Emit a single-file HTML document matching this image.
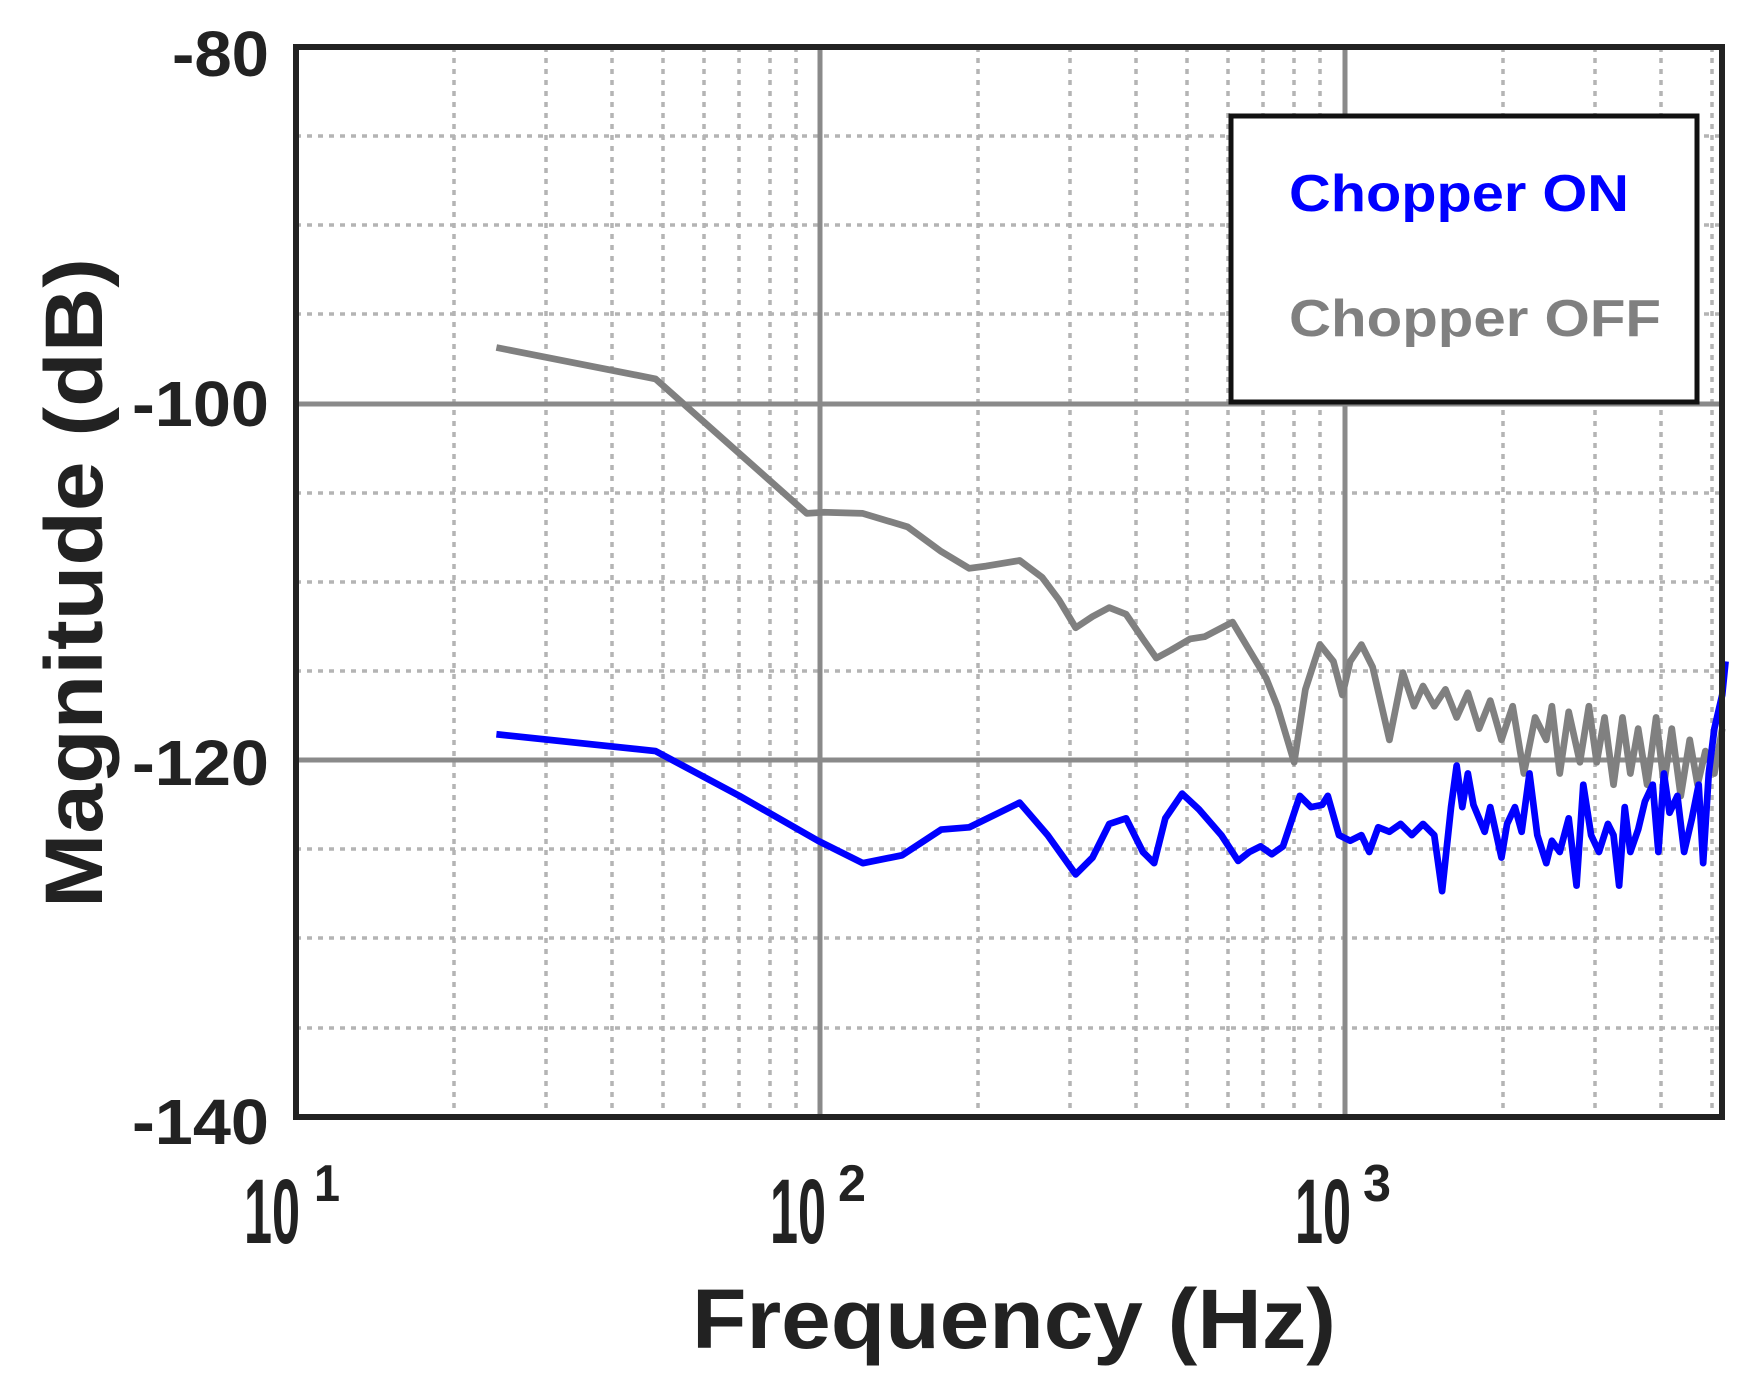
<!DOCTYPE html>
<html><head><meta charset="utf-8"><style>
html,body{margin:0;padding:0;background:#fff;}
svg{display:block;}
text{font-family:"Liberation Sans",Arial,sans-serif;font-weight:bold;}
</style></head><body>
<svg width="1748" height="1390" viewBox="0 0 1748 1390" xmlns="http://www.w3.org/2000/svg">
<rect width="1748" height="1390" fill="#fff"/>
<g stroke="#b4b4b4" stroke-width="3.5" stroke-dasharray="5 6">
<line x1="454" y1="47" x2="454" y2="1117"/><line x1="546" y1="47" x2="546" y2="1117"/><line x1="612" y1="47" x2="612" y2="1117"/><line x1="663" y1="47" x2="663" y2="1117"/><line x1="704" y1="47" x2="704" y2="1117"/><line x1="739" y1="47" x2="739" y2="1117"/><line x1="770" y1="47" x2="770" y2="1117"/><line x1="796" y1="47" x2="796" y2="1117"/>
<line x1="978" y1="47" x2="978" y2="1117"/><line x1="1070" y1="47" x2="1070" y2="1117"/><line x1="1136" y1="47" x2="1136" y2="1117"/><line x1="1187" y1="47" x2="1187" y2="1117"/><line x1="1228" y1="47" x2="1228" y2="1117"/><line x1="1263" y1="47" x2="1263" y2="1117"/><line x1="1294" y1="47" x2="1294" y2="1117"/><line x1="1320" y1="47" x2="1320" y2="1117"/>
<line x1="1503" y1="47" x2="1503" y2="1117"/><line x1="1595" y1="47" x2="1595" y2="1117"/><line x1="1661" y1="47" x2="1661" y2="1117"/><line x1="1712" y1="47" x2="1712" y2="1117"/>
<line x1="296" y1="136" x2="1722" y2="136"/><line x1="296" y1="225" x2="1722" y2="225"/><line x1="296" y1="314" x2="1722" y2="314"/><line x1="296" y1="493" x2="1722" y2="493"/><line x1="296" y1="582" x2="1722" y2="582"/><line x1="296" y1="671" x2="1722" y2="671"/><line x1="296" y1="849" x2="1722" y2="849"/><line x1="296" y1="938" x2="1722" y2="938"/><line x1="296" y1="1028" x2="1722" y2="1028"/>
</g>
<g stroke="#8a8a8a" stroke-width="5">
<line x1="820" y1="47" x2="820" y2="1117"/><line x1="1345" y1="47" x2="1345" y2="1117"/>
<line x1="296" y1="404" x2="1722" y2="404"/><line x1="296" y1="760" x2="1722" y2="760"/>
</g>
<g transform="scale(1.1205 1.121)" fill="none" stroke-width="6" stroke-linejoin="round">
<polyline stroke="#808080" points="443,310 585,338 720,458 735,457 770,458 810,470 840,492 865,507 880,505 910,500 930,515 945,535 960,560 975,550 990,542 1005,548 1020,570 1032,587 1045,580 1062,570 1075,568 1100,555 1115,580 1130,605 1140,630 1155,680 1165,615 1178,575 1190,590 1198,620 1205,590 1215,575 1225,595 1240,660 1252,600 1262,630 1270,612 1280,630 1290,615 1300,640 1310,618 1320,650 1330,625 1340,660 1350,630 1360,690 1370,640 1380,660 1385,630 1392,690 1400,635 1410,680 1418,630 1425,680 1432,640 1440,700 1448,640 1455,690 1462,650 1470,700 1478,640 1485,700 1492,650 1500,710 1508,660 1515,700 1522,670 1530,690 1537,650"/>
<polyline stroke="#0000ff" points="443,655 585,670 660,710 730,750 770,770 805,763 840,740 865,738 910,716 935,745 960,780 975,765 990,735 1005,730 1020,760 1030,770 1040,730 1055,708 1070,722 1090,745 1105,768 1115,760 1125,755 1135,762 1145,755 1150,740 1160,710 1170,720 1180,718 1185,710 1195,745 1205,750 1215,745 1222,760 1230,738 1240,742 1250,735 1260,745 1270,735 1280,745 1287,795 1295,720 1300,683 1305,720 1310,690 1315,718 1325,742 1330,720 1340,765 1345,735 1352,720 1358,742 1365,690 1372,745 1380,770 1385,750 1392,760 1400,730 1407,790 1413,700 1420,745 1427,760 1435,735 1440,745 1445,790 1450,720 1455,760 1462,740 1468,715 1475,700 1480,760 1485,690 1490,725 1497,710 1503,760 1510,730 1516,700 1520,770 1525,690 1530,650 1537,620 1540,590"/>
</g>
<rect x="296" y="47" width="1426" height="1070" fill="none" stroke="#222" stroke-width="6"/>
<rect x="1231" y="116" width="466" height="286" fill="#fff" stroke="#111" stroke-width="5"/>
<text x="1289" y="211" font-size="52" fill="#0000ff" textLength="340" lengthAdjust="spacingAndGlyphs">Chopper ON</text>
<text x="1289" y="336" font-size="52" fill="#808080" textLength="372" lengthAdjust="spacingAndGlyphs">Chopper OFF</text>
<g font-size="64" fill="#222">
<text x="172" y="76" textLength="97" lengthAdjust="spacingAndGlyphs">-80</text>
<text x="132" y="426" textLength="137" lengthAdjust="spacingAndGlyphs">-100</text>
<text x="132" y="785" textLength="137" lengthAdjust="spacingAndGlyphs">-120</text>
<text x="132" y="1144" textLength="137" lengthAdjust="spacingAndGlyphs">-140</text>
</g>
<g fill="#222">
<text x="244" y="1243" font-size="92" textLength="56" lengthAdjust="spacingAndGlyphs">10</text>
<text x="314" y="1201" font-size="52" textLength="26" lengthAdjust="spacingAndGlyphs">1</text>
<text x="770" y="1243" font-size="92" textLength="56" lengthAdjust="spacingAndGlyphs">10</text>
<text x="838" y="1201" font-size="52" textLength="28" lengthAdjust="spacingAndGlyphs">2</text>
<text x="1295" y="1243" font-size="92" textLength="56" lengthAdjust="spacingAndGlyphs">10</text>
<text x="1363" y="1201" font-size="52" textLength="28" lengthAdjust="spacingAndGlyphs">3</text>
</g>
<text x="692" y="1348" font-size="84" fill="#222" textLength="644" lengthAdjust="spacingAndGlyphs">Frequency (Hz)</text>
<text transform="translate(102 908) rotate(-90)" font-size="82" fill="#222" textLength="650" lengthAdjust="spacingAndGlyphs">Magnitude (dB)</text>
</svg>
</body></html>
